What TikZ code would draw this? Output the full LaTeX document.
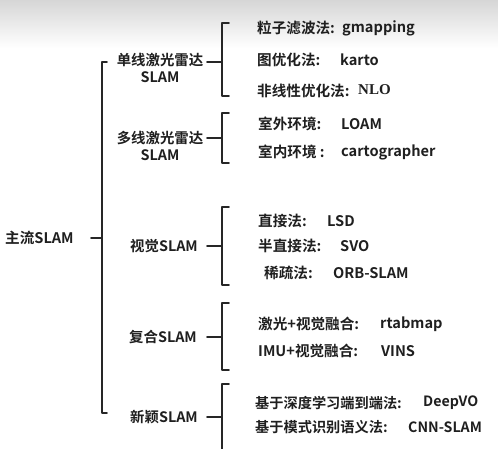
\documentclass[tikz,border=0pt]{standalone}
\usepackage{fontspec}
\setmainfont{Noto Sans CJK SC}[BoldFont={Noto Sans CJK SC Bold}]
\newfontfamily\nlofont{Liberation Serif}
\begin{document}
\begin{tikzpicture}[x=1pt,y=-1pt,
  txt/.style={font=\bfseries\fontsize{14.6}{16}\selectfont, text=black!88, inner sep=0pt, anchor=west},
  sml/.style={font=\bfseries\fontsize{14.2}{15}\selectfont, text=black!88, inner sep=0pt, anchor=west},
  lbl/.style={font=\bfseries\fontsize{14.4}{16.5}\selectfont, text=black!88, inner sep=0pt, align=center},
  br/.style={line width=1.8pt, draw=black!85, line cap=round, line join=round}]
\useasboundingbox (0,0) rectangle (498,448);
\fill[white] (0,0) rectangle (498,448);
\shade[top color={rgb,255:red,214;green,214;blue,214}, bottom color=white] (0,0) rectangle (498,48);

% root
\node[txt] (root) at (5,238) {主流SLAM};
\coordinate (rd) at (91,238);
\coordinate (mt) at (102,62);
\coordinate (mm) at (102,238);
\coordinate (mb) at (102,413);
\draw[br] ([xshift=5pt]mt) -- (mt) -- (mb) -- ([xshift=5pt]mb);
\draw[br] (rd) -- (mm);

% group 1
\node[lbl] (g1) at (160,68) {单线激光雷达\\SLAM};
\coordinate (d1) at (207,62);
\coordinate (b1t) at (222,23);
\coordinate (b1m) at (222,62);
\coordinate (b1b) at (222,96);
\draw[br] ([xshift=7pt]b1t) -- (b1t) -- (b1b) -- ([xshift=7pt]b1b);
\draw[br] (d1) -- (b1m);
\node[txt] (k11) at (257,28) {粒子滤波法:};
\node[txt] (v11) at (342,28) {gmapping};
\node[txt] (k12) at (257,60) {图优化法:};
\node[txt] (v12) at (340,60) {karto};
\node[txt] (k13) at (257,91) {非线性优化法:};
\node[txt, font=\nlofont\bfseries\fontsize{15}{17}\selectfont] (v13) at (358,90) {NLO};

% group 2
\node[lbl] (g2) at (160,146) {多线激光雷达\\SLAM};
\coordinate (d2) at (207,138);
\coordinate (b2t) at (222,113);
\coordinate (b2m) at (222,138);
\coordinate (b2b) at (222,163);
\draw[br] ([xshift=7pt]b2t) -- (b2t) -- (b2b) -- ([xshift=7pt]b2b);
\draw[br] (d2) -- (b2m);
\node[txt] (k21) at (258,124) {室外环境:};
\node[txt] (v21) at (341,124) {LOAM};
\node[txt] (k22) at (258,152) {室内环境 :};
\node[txt] (v22) at (341,152) {cartographer};

% group 3
\node[lbl] (g3) at (164,246) {视觉SLAM};
\coordinate (d3) at (207,246);
\coordinate (b3t) at (222,207);
\coordinate (b3m) at (222,246);
\coordinate (b3b) at (222,285);
\draw[br] ([xshift=7pt]b3t) -- (b3t) -- (b3b) -- ([xshift=7pt]b3b);
\draw[br] (d3) -- (b3m);
\node[txt] (k31) at (258,221) {直接法:};
\node[txt] (v31) at (327,221) {LSD};
\node[txt] (k32) at (258,246) {半直接法:};
\node[txt] (v32) at (340,246) {SVO};
\node[txt] (k33) at (264,273) {稀疏法:};
\node[txt] (v33) at (333,273) {ORB-SLAM};

% group 4
\node[lbl] (g4) at (163,337) {复合SLAM};
\coordinate (d4) at (207,337);
\coordinate (b4t) at (222,303);
\coordinate (b4m) at (222,337);
\coordinate (b4b) at (222,370);
\draw[br] ([xshift=7pt]b4t) -- (b4t) -- (b4b) -- ([xshift=7pt]b4b);
\draw[br] (d4) -- (b4m);
\node[txt] (k41) at (258,324) {激光+视觉融合:};
\node[txt] (v41) at (380,324) {rtabmap};
\node[txt] (k42) at (258,351) {IMU+视觉融合:};
\node[txt] (v42) at (381,351) {VINS};

% group 5
\node[lbl] (g5) at (164,417) {新颖SLAM};
\coordinate (d5) at (207,417);
\coordinate (b5t) at (222,384);
\coordinate (b5m) at (222,417);
\coordinate (b5b) at (222,452);
\draw[br] ([xshift=7pt]b5t) -- (b5t) -- (b5b);
\draw[br] (d5) -- (b5m);
\node[sml] (k51) at (255,403) {基于深度学习端到端法:};
\node[sml] (v51) at (423,403) {DeepVO};
\node[sml] (k52) at (255,427) {基于模式识别语义法:};
\node[sml] (v52) at (408,427) {CNN-SLAM};
\end{tikzpicture}
\end{document}
